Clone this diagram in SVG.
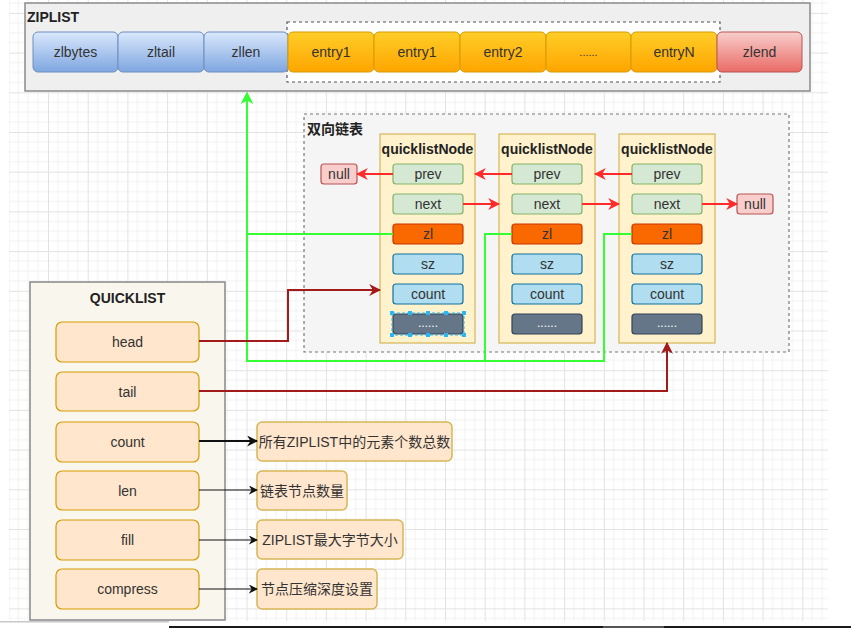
<svg xmlns="http://www.w3.org/2000/svg" width="851" height="628" viewBox="0 0 851 628">
<style>
text{font-family:"Liberation Sans",Arial,"Noto Sans CJK SC",sans-serif;font-size:14px;fill:#333;}
.c{text-anchor:middle;dominant-baseline:central;}
.b{font-weight:bold;fill:#222;}
.blue{fill:url(#gBlue);stroke:#6c8ebf;stroke-width:1;}
.orng{fill:url(#gOrange);stroke:#d79b00;stroke-width:1;}
.red{fill:url(#gRed);stroke:#b85450;stroke-width:1;}
.node{fill:#fff2cc;stroke:#d6b656;stroke-width:1.2;}
.grn{fill:#d5e8d4;stroke:#82b366;stroke-width:1.2;}
.zl{fill:#fa6800;stroke:#c73500;stroke-width:1.2;}
.sky{fill:#b1ddf0;stroke:#10739e;stroke-width:1.2;}
.dark{fill:#647687;stroke:#314354;stroke-width:1.2;}
.null{fill:#f8cecc;stroke:#b85450;stroke-width:1.2;}
.fld{fill:#ffe6cc;stroke:#d79b00;stroke-width:1.2;}
.lbl{fill:#ffe6cc;stroke:#d6b656;stroke-width:1.5;}
.e{fill:none;stroke-width:2;}
.eg{stroke:#33ff33;}
.er{stroke:#ff2a2a;}
.ed{stroke:#a21a1a;}
.ek{stroke:#111;}
</style>
<defs>
<linearGradient id="gBlue" x1="0" y1="0" x2="0" y2="1"><stop offset="0" stop-color="#dae8fc"/><stop offset="1" stop-color="#7ea6e0"/></linearGradient>
<linearGradient id="gOrange" x1="0" y1="0" x2="0" y2="1"><stop offset="0" stop-color="#ffcd28"/><stop offset="1" stop-color="#ffa500"/></linearGradient>
<linearGradient id="gRed" x1="0" y1="0" x2="0" y2="1"><stop offset="0" stop-color="#f8cecc"/><stop offset="1" stop-color="#ea6b66"/></linearGradient>
<pattern id="grid" x="8.3" y="-26.8" width="39.7" height="39.7" patternUnits="userSpaceOnUse">
<path d="M9.925,0V39.7M19.85,0V39.7M29.775,0V39.7M0,9.925H39.7M0,19.85H39.7M0,29.775H39.7" stroke="#f1f1f1" stroke-width="1" fill="none"/>
<path d="M0.5,0V39.7M0,0.5H39.7" stroke="#e2e2e2" stroke-width="1" fill="none"/>
</pattern>
<marker id="mG" viewBox="0 0 10 10" refX="9" refY="5" markerWidth="12" markerHeight="12" markerUnits="userSpaceOnUse" orient="auto"><path d="M0,0L10,5L0,10L3,5z" fill="#33ff33"/></marker>
<marker id="mR" viewBox="0 0 10 10" refX="9" refY="5" markerWidth="12" markerHeight="12" markerUnits="userSpaceOnUse" orient="auto"><path d="M0,0L10,5L0,10L3,5z" fill="#ff2a2a"/></marker>
<marker id="mD" viewBox="0 0 10 10" refX="9" refY="5" markerWidth="12" markerHeight="12" markerUnits="userSpaceOnUse" orient="auto"><path d="M0,0L10,5L0,10L3,5z" fill="#a21a1a"/></marker>
<marker id="mK" viewBox="0 0 10 10" refX="9" refY="5" markerWidth="11" markerHeight="11" markerUnits="userSpaceOnUse" orient="auto"><path d="M0,0L10,5L0,10L3,5z" fill="#111"/></marker>
<marker id="mK2" viewBox="0 0 10 10" refX="9" refY="5" markerWidth="9" markerHeight="9" markerUnits="userSpaceOnUse" orient="auto"><path d="M0,0L10,5L0,10L3,5z" fill="#111"/></marker>
</defs>

<rect width="851" height="628" fill="#fff"/>
<rect x="9" y="0" width="819" height="621" fill="url(#grid)"/>

<g id="ziplist">
<rect x="25" y="3" width="785" height="88" fill="#efefef" stroke="#8a8a8a" stroke-width="1.5"/>
<text x="27" y="22" class="b">ZIPLIST</text>
<rect x="287" y="22" width="433" height="60" fill="#fff" stroke="#555" stroke-width="1.2" stroke-dasharray="3 3"/>
</g>
<g id="zlbytes"><rect x="33" y="32" width="85" height="40" rx="5" class="blue"/><text x="75.5" y="52" class="c">zlbytes</text></g>
<g id="zltail"><rect x="118" y="32" width="86" height="40" rx="5" class="blue"/><text x="161" y="52" class="c">zltail</text></g>
<g id="zllen"><rect x="204" y="32" width="84" height="40" rx="5" class="blue"/><text x="246" y="52" class="c">zllen</text></g>
<g id="entry1a"><rect x="288" y="32" width="86" height="40" rx="5" class="orng"/><text x="331" y="52" class="c">entry1</text></g>
<g id="entry1b"><rect x="374" y="32" width="86" height="40" rx="5" class="orng"/><text x="417" y="52" class="c">entry1</text></g>
<g id="entry2"><rect x="460" y="32" width="86" height="40" rx="5" class="orng"/><text x="503" y="52" class="c">entry2</text></g>
<g id="entryDots"><rect x="546" y="32" width="85" height="40" rx="5" class="orng"/><text x="588.5" y="52" class="c" style="font-size:11px">......</text></g>
<g id="entryN"><rect x="631" y="32" width="86" height="40" rx="5" class="orng"/><text x="674" y="52" class="c">entryN</text></g>
<g id="zlend"><rect x="717" y="32" width="85" height="40" rx="5" class="red"/><text x="759.5" y="52" class="c">zlend</text></g>

<g id="linkedlist">
<rect x="304" y="114" width="485" height="238" fill="#f5f5f5" stroke="#777" stroke-width="1.2" stroke-dasharray="3 3"/>
<text x="307" y="134" class="b">双向链表</text>
</g>
<g id="nullLeft"><rect x="321" y="164" width="36" height="20" rx="3" class="null"/><text x="339" y="174" class="c">null</text></g>
<g id="nullRight"><rect x="737" y="194" width="36" height="20" rx="3" class="null"/><text x="755" y="204" class="c">null</text></g>

<g id="node1">
<rect x="380" y="134" width="95" height="209" class="node"/>
<text x="427.5" y="149" class="c b">quicklistNode</text>
<rect x="393" y="164" width="70" height="20" rx="3" class="grn"/><text x="428" y="174" class="c">prev</text>
<rect x="393" y="194" width="70" height="20" rx="3" class="grn"/><text x="428" y="204" class="c">next</text>
<rect x="393" y="224" width="70" height="20" rx="3" class="zl"/><text x="428" y="234" class="c">zl</text>
<rect x="393" y="254" width="70" height="20" rx="3" class="sky"/><text x="428" y="264" class="c">sz</text>
<rect x="393" y="284" width="70" height="20" rx="3" class="sky"/><text x="428" y="294" class="c">count</text>
<rect x="393" y="314" width="70" height="20" rx="3" class="dark"/><text x="428" y="323" class="c" style="fill:#fff;font-size:12px">......</text>
<rect x="392" y="313" width="72" height="22" fill="none" stroke="#29b6f2" stroke-width="1" stroke-dasharray="3 2"/>
<g fill="#29b6f2"><rect x="390" y="311" width="4" height="4"/><rect x="426" y="311" width="4" height="4"/><rect x="462" y="311" width="4" height="4"/><rect x="390" y="333" width="4" height="4"/><rect x="426" y="333" width="4" height="4"/><rect x="462" y="333" width="4" height="4"/><rect x="408" y="311" width="4" height="4"/><rect x="444" y="311" width="4" height="4"/><rect x="408" y="333" width="4" height="4"/><rect x="444" y="333" width="4" height="4"/></g>
</g>

<g id="node2">
<rect x="499" y="134" width="96" height="209" class="node"/>
<text x="547" y="149" class="c b">quicklistNode</text>
<rect x="512" y="164" width="70" height="20" rx="3" class="grn"/><text x="547" y="174" class="c">prev</text>
<rect x="512" y="194" width="70" height="20" rx="3" class="grn"/><text x="547" y="204" class="c">next</text>
<rect x="512" y="224" width="70" height="20" rx="3" class="zl"/><text x="547" y="234" class="c">zl</text>
<rect x="512" y="254" width="70" height="20" rx="3" class="sky"/><text x="547" y="264" class="c">sz</text>
<rect x="512" y="284" width="70" height="20" rx="3" class="sky"/><text x="547" y="294" class="c">count</text>
<rect x="512" y="314" width="70" height="20" rx="3" class="dark"/><text x="547" y="323" class="c" style="fill:#fff;font-size:12px">......</text>
</g>

<g id="node3">
<rect x="619" y="134" width="96" height="209" class="node"/>
<text x="667" y="149" class="c b">quicklistNode</text>
<rect x="632" y="164" width="70" height="20" rx="3" class="grn"/><text x="667" y="174" class="c">prev</text>
<rect x="632" y="194" width="70" height="20" rx="3" class="grn"/><text x="667" y="204" class="c">next</text>
<rect x="632" y="224" width="70" height="20" rx="3" class="zl"/><text x="667" y="234" class="c">zl</text>
<rect x="632" y="254" width="70" height="20" rx="3" class="sky"/><text x="667" y="264" class="c">sz</text>
<rect x="632" y="284" width="70" height="20" rx="3" class="sky"/><text x="667" y="294" class="c">count</text>
<rect x="632" y="314" width="70" height="20" rx="3" class="dark"/><text x="667" y="323" class="c" style="fill:#fff;font-size:12px">......</text>
</g>

<g id="quicklist">
<rect x="30" y="282" width="195" height="338" fill="#f9f7ed" stroke="#888" stroke-width="1.5"/>
<text x="127.5" y="298" class="c b">QUICKLIST</text>
<rect x="56" y="322" width="143" height="40" rx="6" class="fld"/><text x="127.5" y="342" class="c">head</text>
<rect x="56" y="372" width="143" height="39" rx="6" class="fld"/><text x="127.5" y="391.5" class="c">tail</text>
<rect x="56" y="422" width="143" height="40" rx="6" class="fld"/><text x="127.5" y="442" class="c">count</text>
<rect x="56" y="471" width="143" height="39" rx="6" class="fld"/><text x="127.5" y="490.5" class="c">len</text>
<rect x="56" y="520" width="143" height="40" rx="6" class="fld"/><text x="127.5" y="540" class="c">fill</text>
<rect x="56" y="569" width="143" height="40" rx="6" class="fld"/><text x="127.5" y="589" class="c">compress</text>
</g>

<g id="lblCount"><rect x="257" y="422" width="195" height="39" rx="5" class="lbl"/><text x="354.5" y="441.5" class="c">所有ZIPLIST中的元素个数总数</text></g>
<g id="lblLen"><rect x="257" y="471" width="90" height="39" rx="5" class="lbl"/><text x="302" y="490.5" class="c">链表节点数量</text></g>
<g id="lblFill"><rect x="257" y="520" width="146" height="39" rx="5" class="lbl"/><text x="330" y="539.5" class="c">ZIPLIST最大字节大小</text></g>
<g id="lblCompress"><rect x="257" y="569" width="120" height="40" rx="5" class="lbl"/><text x="317" y="589" class="c">节点压缩深度设置</text></g>

<g id="connectors">
<path class="e eg" d="M393,234H247V93" marker-end="url(#mG)"/>
<path class="e eg" d="M512,234H485V361H247V93" marker-end="url(#mG)"/>
<path class="e eg" d="M632,234H604V361H485"/>
<path class="e er" d="M393,174H357" marker-end="url(#mR)"/>
<path class="e er" d="M512,174H475" marker-end="url(#mR)"/>
<path class="e er" d="M632,174H595" marker-end="url(#mR)"/>
<path class="e er" d="M463,204H499" marker-end="url(#mR)"/>
<path class="e er" d="M582,204H619" marker-end="url(#mR)"/>
<path class="e er" d="M702,204H737" marker-end="url(#mR)"/>
<path class="e ed" d="M199,341H288V290H380" marker-end="url(#mD)"/>
<path class="e ed" d="M199,391H667V343" marker-end="url(#mD)"/>
<path class="e ek" d="M199,441H257" marker-end="url(#mK)"/>
<path class="e ek" style="stroke-width:1.2" d="M199,490H257" marker-end="url(#mK2)"/>
<path class="e ek" style="stroke-width:1.2" d="M199,540H257" marker-end="url(#mK2)"/>
<path class="e ek" style="stroke-width:1.2" d="M199,589H257" marker-end="url(#mK2)"/>
</g>

<rect x="0" y="621" width="169" height="1.5" fill="#c8c8c8"/>
<rect x="169" y="626" width="682" height="2" fill="#1a1a1a"/>
<rect x="603" y="626" width="61" height="2" fill="#555"/>
</svg>
